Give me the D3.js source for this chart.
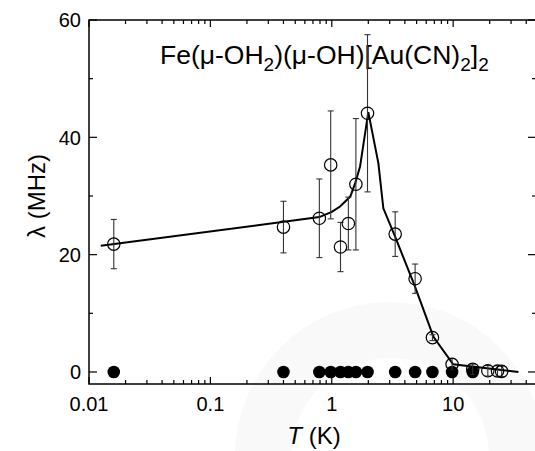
<!DOCTYPE html>
<html><head><meta charset="utf-8">
<script src="https://cdn.jsdelivr.net/npm/d3@7"></script>
<style>body{margin:0;background:#fff}svg{display:block}text{font-family:"Liberation Sans",Arial,sans-serif;fill:#000}</style>
</head><body>
<svg id="c" width="535" height="451"></svg>
<script>
// open circles: lambda(T) with error bars
const T_open   = [0.016, 0.4, 0.79, 0.98, 1.18, 1.37, 1.58, 1.97, 3.33, 4.86, 6.75, 9.8, 14.5, 19.3, 23.2, 25.1];
const lam_open = [21.8, 24.7, 26.2, 35.3, 21.3, 25.3, 32.0, 44.1, 23.5, 15.9, 5.85, 1.3, 0.45, 0.2, 0.17, 0.1];
const err_open = [4.2, 4.4, 6.7, 9.2, 4.2, 4.5, 11.2, 13.4, 3.8, 2.5, 0.5, 1.0, 0.9, 0.9, 0.9, 0.9];
// filled circles
const T_fill   = [0.016, 0.4, 0.79, 0.98, 1.18, 1.37, 1.58, 1.97, 3.33, 4.86, 6.75, 9.8, 14.5];
const lam_fill = [0, 0, 0, 0, 0, 0, 0, 0, 0, 0, 0, 0, 0];
// fitted line
const T_line   = [0.0125, 0.79, 1.0, 1.17, 1.42, 1.56, 1.71, 2.0, 2.42, 2.66, 3.32, 4.86, 6.88, 10, 34.5];
const lam_line = [21.5, 26.4, 27.3, 28.2, 29.9, 32.2, 35.0, 44.3, 35.6, 27.9, 23.1, 14.5, 6.0, 1.3, 0];
// ticks
const xTicks = [0.01, 0.1, 1, 10];
const xTickLabels = ["0.01", "0.1", "1", "10"];
const yTicks = [0, 20, 40, 60];
const yMinor = [10, 30, 50];

const svg = d3.select("#c");
const L = 89, R = 538, TOP = 20, B = 384;
const x = d3.scaleLog().domain([0.01, 50]).range([L, R]);
const y = d3.scaleLinear().domain([-2.05, 60]).range([B, TOP]);

// faint watermark ring
svg.append("path")
  .attr("transform", "translate(390,457)")
  .attr("d", d3.arc().innerRadius(99).outerRadius(155).startAngle(0).endAngle(2 * Math.PI)())
  .attr("fill", "#f9f9f9");

// minor x ticks
const xMinor = [];
for (let e = -2; e <= 1; e++) for (let k = 2; k <= 9; k++) { const v = k * Math.pow(10, e); if (v <= 50) xMinor.push(v); }

const ax = svg.append("g").attr("stroke", "#000").attr("fill", "none");
ax.append("rect").attr("x", L).attr("y", TOP).attr("width", R - L).attr("height", B - TOP).attr("stroke-width", 1.5);
xTicks.forEach(v => {
  ax.append("line").attr("x1", x(v)).attr("x2", x(v)).attr("y1", B).attr("y2", B - 7).attr("stroke-width", 1.2);
  ax.append("line").attr("x1", x(v)).attr("x2", x(v)).attr("y1", TOP).attr("y2", TOP + 7).attr("stroke-width", 1.2);
});
xMinor.forEach(v => {
  ax.append("line").attr("x1", x(v)).attr("x2", x(v)).attr("y1", B).attr("y2", B - 4).attr("stroke-width", 1.2);
  ax.append("line").attr("x1", x(v)).attr("x2", x(v)).attr("y1", TOP).attr("y2", TOP + 4).attr("stroke-width", 1.2);
});
yTicks.forEach(v => {
  ax.append("line").attr("x1", L).attr("x2", L + 8).attr("y1", y(v)).attr("y2", y(v)).attr("stroke-width", 1.2);
  ax.append("line").attr("x1", R).attr("x2", R - 10).attr("y1", y(v)).attr("y2", y(v)).attr("stroke-width", 1.2);
});
yMinor.forEach(v => {
  ax.append("line").attr("x1", L).attr("x2", L + 4).attr("y1", y(v)).attr("y2", y(v)).attr("stroke-width", 1.2);
  ax.append("line").attr("x1", R).attr("x2", R - 6).attr("y1", y(v)).attr("y2", y(v)).attr("stroke-width", 1.2);
});

// tick labels
svg.append("g").selectAll("text").data(xTicks).join("text")
  .attr("x", d => x(d)).attr("y", 411).attr("text-anchor", "middle").attr("font-size", 20)
  .text((d, i) => xTickLabels[i]);
svg.append("g").selectAll("text").data(yTicks).join("text")
  .attr("x", 81).attr("y", d => y(d)).attr("dy", "0.36em").attr("text-anchor", "end").attr("font-size", 20)
  .text(d => d);

// axis titles
const xt = svg.append("text").attr("x", 314).attr("y", 444).attr("text-anchor", "middle").attr("font-size", 24);
xt.append("tspan").attr("font-style", "italic").text("T");
xt.append("tspan").text(" (K)");
svg.append("text").attr("transform", "translate(45,196) rotate(-90)").attr("text-anchor", "middle")
  .attr("font-size", 24).text("λ (MHz)");

// title with subscripts
const tt = svg.append("text").attr("x", 160).attr("y", 64).attr("font-size", 26.5);
const parts = [["Fe(μ-OH", 0], ["2", 1], [")(μ-OH)[Au(CN)", 0], ["2", 1], ["]", 0], ["2", 1]];
parts.forEach(([s, sub], i) => {
  const t = tt.append("tspan").text(s);
  if (sub) t.attr("font-size", 19).attr("dy", 7); else if (i > 0) t.attr("dy", -7);
});

// fit line
const lineData = T_line.map((t, i) => [t, lam_line[i]]);
svg.append("path").datum(lineData)
  .attr("d", d3.line().x(d => x(d[0])).y(d => y(d[1])))
  .attr("fill", "none").attr("stroke", "#000").attr("stroke-width", 2);

// filled circles
svg.append("g").selectAll("circle").data(T_fill).join("circle")
  .attr("cx", d => x(d)).attr("cy", (d, i) => y(lam_fill[i])).attr("r", 6.3).attr("fill", "#000");

// error bars
const eb = svg.append("g").attr("stroke", "#333").attr("stroke-width", 1.1);
T_open.forEach((t, i) => {
  const cx = x(t), y1 = y(lam_open[i] + err_open[i]), y2 = y(lam_open[i] - err_open[i]);
  eb.append("line").attr("x1", cx).attr("x2", cx).attr("y1", y1).attr("y2", y2);
  eb.append("line").attr("x1", cx - 3).attr("x2", cx + 3).attr("y1", y1).attr("y2", y1);
  eb.append("line").attr("x1", cx - 3).attr("x2", cx + 3).attr("y1", y2).attr("y2", y2);
});

// open circles
svg.append("g").selectAll("circle").data(T_open).join("circle")
  .attr("cx", d => x(d)).attr("cy", (d, i) => y(lam_open[i])).attr("r", 6.2)
  .attr("fill", "none").attr("stroke", "#000").attr("stroke-width", 1.2);
</script>
</body></html>
